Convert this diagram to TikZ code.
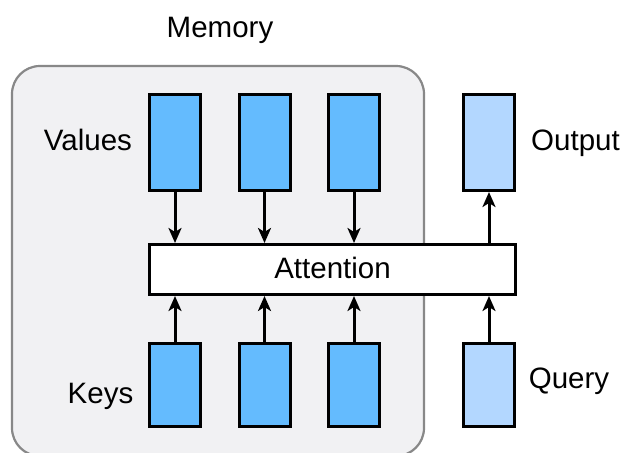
\documentclass[tikz,border=0pt]{standalone}
\usepackage{fontspec}
\setmainfont{Liberation Sans}
\usetikzlibrary{arrows.meta}
\definecolor{vblue}{RGB}{100,187,254}
\definecolor{qblue}{RGB}{179,215,255}
\definecolor{membg}{RGB}{241,241,243}
\definecolor{memline}{RGB}{136,136,136}
\tikzset{
  vec/.style={draw=black,line width=3pt,fill=vblue,minimum width=51pt,inner sep=0pt},
  qvec/.style={vec,fill=qblue},
  lab/.style={font=\fontsize{29.5}{34}\selectfont,inner sep=0pt,anchor=base},
  arr/.style={draw=black,line width=3pt,-{Stealth[length=15pt,width=13pt,inset=4pt]}}}
\begin{document}
\begin{tikzpicture}[x=1pt,y=-1pt]
\useasboundingbox (0,0) rectangle (625,453);
\draw[memline,fill=membg,line width=2.2pt,rounded corners=28pt] (12,66) rectangle (424,456);
\node[lab] (mem) at (220,37.5) {Memory};
% values
\node[vec,minimum height=96pt] (v1) at (175,142.5) {};
\node[vec,minimum height=96pt] (v2) at (264.5,142.5) {};
\node[vec,minimum height=96pt] (v3) at (354,142.5) {};
\node[qvec,minimum height=96pt] (out) at (489,142.5) {};
% keys
\node[vec,minimum height=83pt] (k1) at (175,385) {};
\node[vec,minimum height=83pt] (k2) at (264.5,385) {};
\node[vec,minimum height=83pt] (k3) at (354,385) {};
\node[qvec,minimum height=83pt] (q) at (489,385) {};
% attention
\node[draw=black,line width=3pt,fill=white,minimum width=366pt,minimum height=50pt,inner sep=0pt] (att) at (332.5,269.5) {};
\node[lab] (atttext) at (332.5,278.5) {Attention};
% labels
\node[lab] (lv) at (88,150) {Values};
\node[lab] (lk) at (100.5,403) {Keys};
\node[lab] (lo) at (575.5,150) {Output};
\node[lab] (lq) at (569,388) {Query};
% arrows
\draw[arr] (v1.south) -- (v1.south |- att.north);
\draw[arr] (v2.south) -- (v2.south |- att.north);
\draw[arr] (v3.south) -- (v3.south |- att.north);
\draw[arr] (out.south |- att.north) -- (out.south);
\draw[arr] (k1.north) -- (k1.north |- att.south);
\draw[arr] (k2.north) -- (k2.north |- att.south);
\draw[arr] (k3.north) -- (k3.north |- att.south);
\draw[arr] (q.north) -- (q.north |- att.south);
\end{tikzpicture}
\end{document}
